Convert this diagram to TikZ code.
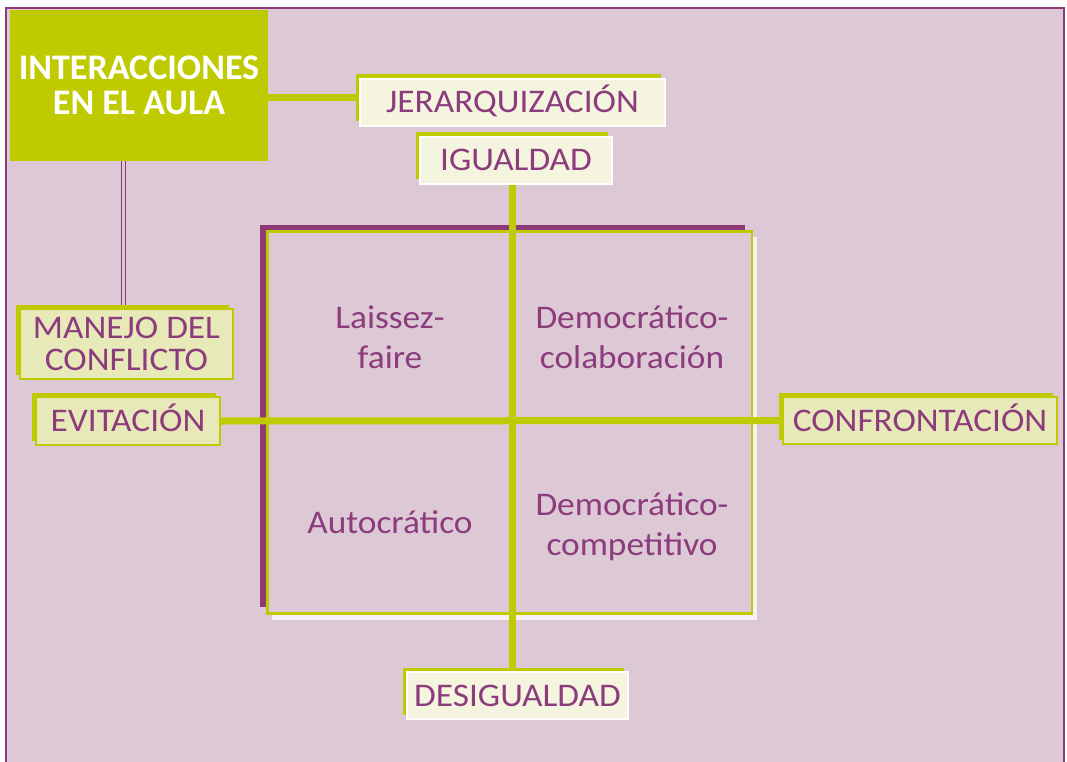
\documentclass[tikz,border=0pt]{standalone}
\usepackage{fontspec}
\setmainfont{Carlito}[FakeStretch=1.07]
\newfontfamily\headfont{Carlito}
\usetikzlibrary{shadows}
\definecolor{gr}{HTML}{BFCA00}
\definecolor{pur}{HTML}{8E3A76}
\definecolor{txt}{HTML}{8C3B7C}
\definecolor{bg}{HTML}{DDC9D5}
\definecolor{creamw}{HTML}{F4F4DF}
\definecolor{creamg}{HTML}{E8E9B8}
\definecolor{wsh}{HTML}{F7F0F4}
\pgfdeclarelayer{back}
\pgfsetlayers{back,main}
\begin{document}
\begin{tikzpicture}[x=1pt,y=-1pt,
  lab/.style={font=\fontsize{33}{32}\selectfont, text=txt, inner sep=0pt},
  one/.style={text height=21pt, text depth=0pt},
  shad/.style={general shadow={fill=gr, shadow xshift=-4.5pt, shadow yshift=4.5pt}},
  boxw/.style={lab, shad, fill=creamw, draw=white, line width=1.5pt},
  boxg/.style={lab, shad, fill=creamg, draw=gr, line width=2pt},
  quad/.style={lab, font=\fontsize{33}{40}\selectfont, align=center},
  conn/.style={draw=gr, line width=7pt},
  dbl/.style={draw=pur, line width=1.3pt, double=bg, double distance=2.4pt}
]
\useasboundingbox (0,0) rectangle (1067,762);
\begin{pgfonlayer}{back}
  \fill[white] (0,0) rectangle (1067,762);
  \filldraw[fill=bg, draw=pur, line width=2pt] (6,8) rectangle (1064,780);
  % quadrant frame
  \fill[pur] (260,225) rectangle (745,607);
  \fill[wsh] (272,237) rectangle (757,620);
  \filldraw[fill=bg, draw=gr, line width=2.5pt] (267.5,231.5) rectangle (752,613.5);
\end{pgfonlayer}

\node[fill=gr, minimum width=258pt, minimum height=151pt, inner sep=0pt,
      text=white, font=\headfont\bfseries\fontsize{36}{35}\selectfont, align=center]
  (main) at (139,85.5) {INTERACCIONES\\EN EL AULA};

\node[boxw, one, minimum width=305pt, minimum height=47pt] (jer) at (512.5,102.5) {JERARQUIZACIÓN};
\node[boxw, one, minimum width=192pt, minimum height=47pt] (igu) at (516,160.5) {IGUALDAD};
\node[boxw, one, minimum width=221pt, minimum height=47pt] (des) at (517.5,695.5) {DESIGUALDAD};
\node[boxg, align=center, minimum width=213pt, minimum height=70pt] (man) at (126.5,344) {MANEJO DEL\\CONFLICTO};
\node[boxg, one, minimum width=184pt, minimum height=48pt] (evi) at (128,421) {EVITACIÓN};
\node[boxg, one, minimum width=274pt, minimum height=47pt] (con) at (920,420.5) {CONFRONTACIÓN};

\node[quad] (lf) at (390,337) {Laissez-\\faire};
\node[quad] (dc) at (632,337) {Democrático-\\colaboración};
\node[quad, one] (au) at (390,522.5) {Autocrático};
\node[quad] (dp) at (632,527) {Democrático-\\competitivo};

\coordinate (vx) at (512,0);
\coordinate (jy) at (0,97.5);
\coordinate (dx) at (123.5,0);
\begin{pgfonlayer}{back}
  \draw[conn] (main.east |- jy) -- (jer.west |- jy);
  \draw[conn] (igu.south -| vx) -- (des.north -| vx);
  \draw[conn] (evi.east) -- (con.west);
  \draw[dbl] (main.south -| dx) -- (man.north -| dx);
\end{pgfonlayer}
\end{tikzpicture}
\end{document}
